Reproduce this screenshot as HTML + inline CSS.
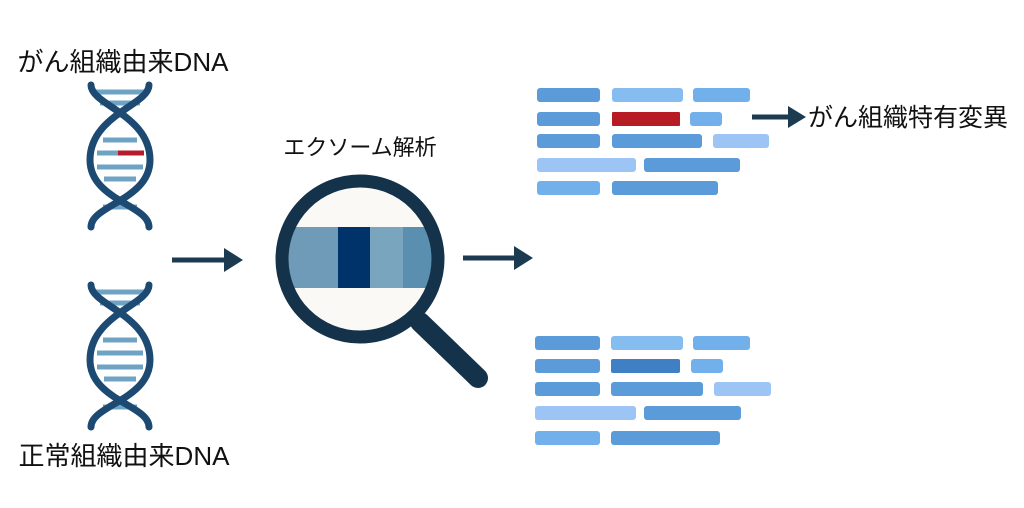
<!DOCTYPE html>
<html><head><meta charset="utf-8"><style>
body{margin:0;background:#fff;}
svg{display:block;}
text{font-family:"Liberation Sans","Noto Sans CJK JP",sans-serif;fill:#111;}
</style></head><body>
<svg width="1024" height="508" viewBox="0 0 1024 508">
<defs>
<g id="dna">
  <g stroke="#6fa3c4" stroke-width="5">
    <line x1="96" y1="7" x2="144" y2="7"/>
    <line x1="100" y1="18" x2="140" y2="18"/>
    <line x1="103" y1="55" x2="137" y2="55"/>
    <line x1="97" y1="68" x2="143" y2="68"/>
    <line x1="97" y1="82" x2="143" y2="82"/>
    <line x1="104" y1="94" x2="136" y2="94"/>
    <line x1="103" y1="122" x2="137" y2="122"/>
  </g>
  <g fill="none" stroke="#1c4a72" stroke-width="7" stroke-linecap="round">
    <path d="M91 0 C91 20 150 30 150 75 C150 115 91 120 91 142"/>
    <path d="M149 0 C149 20 90 30 90 75 C90 115 149 120 149 142"/>
  </g>
</g>
</defs>

<text x="123" y="71" font-size="26" text-anchor="middle">がん組織由来DNA</text>
<use href="#dna" transform="translate(0,85)"/>
<line x1="118" y1="153" x2="144" y2="153" stroke="#b71c2a" stroke-width="5"/>

<use href="#dna" transform="translate(0,285)"/>
<text x="124" y="465" font-size="26" text-anchor="middle">正常組織由来DNA</text>

<g fill="#1c3a50" stroke="#1c3a50">
  <line x1="172" y1="260" x2="228" y2="260" stroke-width="5"/>
  <polygon points="224,248 243,260 224,272" stroke="none"/>
  <line x1="463" y1="258" x2="518" y2="258" stroke-width="5"/>
  <polygon points="514,246 533,258 514,270" stroke="none"/>
  <line x1="752" y1="117" x2="792" y2="117" stroke-width="5"/>
  <polygon points="788,106 806,117 788,128" stroke="none"/>
</g>

<text x="360" y="155" font-size="22" text-anchor="middle">エクソーム解析</text>
<text x="808" y="126" font-size="25">がん組織特有変異</text>

<line x1="420" y1="322" x2="478" y2="378" stroke="#14324a" stroke-width="20" stroke-linecap="round"/>
<circle cx="360" cy="259" r="78" fill="#fbf9f6"/>
<clipPath id="c"><circle cx="360" cy="259" r="78"/></clipPath>
<g clip-path="url(#c)">
  <rect x="280" y="227" width="58" height="61" fill="#6f9bb8"/>
  <rect x="338" y="227" width="32" height="61" fill="#00336a"/>
  <rect x="370" y="227" width="33" height="61" fill="#7aa5bf"/>
  <rect x="403" y="227" width="40" height="61" fill="#5a8fb0"/>
</g>
<circle cx="360" cy="259" r="78" fill="none" stroke="#14324a" stroke-width="13"/>

<g>
  <rect x="537" y="88" width="63" height="14" rx="3" fill="#5b9bd9"/>
  <rect x="612" y="88" width="71" height="14" rx="3" fill="#86bdf0"/>
  <rect x="693" y="88" width="57" height="14" rx="3" fill="#72b0ec"/>
  <rect x="537" y="112" width="63" height="14" rx="3" fill="#5b9bd9"/>
  <rect x="612" y="112" width="68" height="14" rx="1" fill="#b71c24"/>
  <rect x="690" y="112" width="32" height="14" rx="3" fill="#72b0ec"/>
  <rect x="537" y="134" width="63" height="14" rx="3" fill="#5b9bd9"/>
  <rect x="612" y="134" width="90" height="14" rx="3" fill="#5b9bd9"/>
  <rect x="713" y="134" width="56" height="14" rx="3" fill="#9cc4f5"/>
  <rect x="537" y="158" width="99" height="14" rx="3" fill="#9cc4f5"/>
  <rect x="644" y="158" width="96" height="14" rx="3" fill="#5b9bd9"/>
  <rect x="537" y="181" width="63" height="14" rx="3" fill="#72b0ec"/>
  <rect x="612" y="181" width="106" height="14" rx="3" fill="#5b9bd9"/>
</g>
<g>
  <rect x="535" y="336" width="65" height="14" rx="3" fill="#5b9bd9"/>
  <rect x="611" y="336" width="72" height="14" rx="3" fill="#86bdf0"/>
  <rect x="693" y="336" width="57" height="14" rx="3" fill="#72b0ec"/>
  <rect x="535" y="359" width="65" height="14" rx="3" fill="#5b9bd9"/>
  <rect x="611" y="359" width="69" height="14" rx="2" fill="#3f7fc4"/>
  <rect x="691" y="359" width="32" height="14" rx="3" fill="#72b0ec"/>
  <rect x="535" y="382" width="65" height="14" rx="3" fill="#5b9bd9"/>
  <rect x="611" y="382" width="92" height="14" rx="3" fill="#5b9bd9"/>
  <rect x="714" y="382" width="57" height="14" rx="3" fill="#9cc4f5"/>
  <rect x="535" y="406" width="101" height="14" rx="3" fill="#9cc4f5"/>
  <rect x="644" y="406" width="97" height="14" rx="3" fill="#5b9bd9"/>
  <rect x="535" y="431" width="65" height="14" rx="3" fill="#72b0ec"/>
  <rect x="611" y="431" width="109" height="14" rx="3" fill="#5b9bd9"/>
</g>
</svg>
</body></html>
